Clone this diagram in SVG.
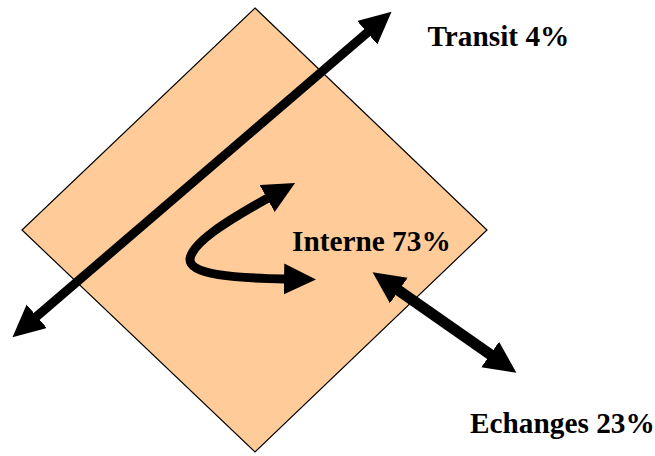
<svg xmlns="http://www.w3.org/2000/svg" width="655" height="456" viewBox="0 0 655 456">
  <style>
    .zone { fill: #FFCC99; stroke: #000; stroke-width: 1.2; }
    .flow { fill: none; stroke: #000; stroke-linecap: butt; marker-start: url(#head); marker-end: url(#head); }
    .label { font-family: "Liberation Serif", "Times New Roman", serif; font-weight: bold; font-size: 29.3px; fill: #000; }
  </style>
  <defs>
    <marker id="head" markerUnits="userSpaceOnUse" markerWidth="34" markerHeight="32" viewBox="0 0 34 32" refX="1" refY="15.5" orient="auto-start-reverse">
      <path d="M0,0 L32,15.5 L0,31 Z" fill="#000"/>
    </marker>
  </defs>

  <g id="zone">
    <polygon class="zone" points="255,8 487,230 255,452 22,230"/>
  </g>

  <g id="connectors">
    <line id="transit-flow" class="flow" stroke-width="9" x1="36" y1="317" x2="368" y2="32"/>
    <line id="echanges-flow" class="flow" stroke-width="11" x1="398" y1="290" x2="491" y2="355"/>
    <path id="interne-flow" class="flow" stroke-width="9" d="M268,198 C 225,222 192,243 190,259 C 189,275 235,278 285,279"/>
  </g>

  <g id="transit">
    <text class="label" x="427.5" y="45.7">Transit 4%</text>
  </g>
  <g id="interne">
    <text class="label" x="292" y="251">Interne 73%</text>
  </g>
  <g id="echanges">
    <text class="label" x="470" y="433">Echanges 23%</text>
  </g>
</svg>
